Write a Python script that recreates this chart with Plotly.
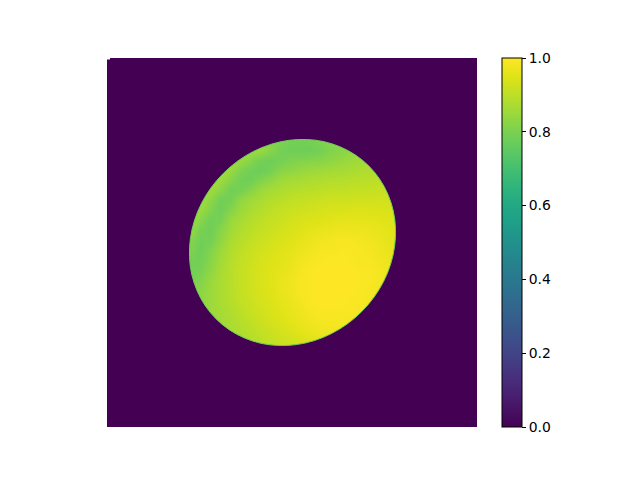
import plotly.graph_objects as go

# Estimated surface values on a coarse grid (image columns / rows)
grid_x = [73, 83, 93, 103, 113, 123, 133, 143, 153, 163, 173, 183, 193, 203, 213, 223, 233, 243, 253, 263, 273, 283, 293]
grid_y = [72, 82, 92, 102, 112, 122, 132, 142, 152, 162, 172, 182, 192, 202, 212, 222, 232, 242, 252, 262, 272, 282, 292]
surface = [
    [.86,.86,.86,.86,.86,.86,.86,.86,.86,.83,.81,.79,.79,.79,.81,.82,.83,.85,.86,.86,.86,.86,.86],
    [.86,.86,.86,.86,.86,.86,.86,.86,.86,.83,.81,.79,.79,.79,.81,.82,.83,.85,.86,.86,.86,.86,.86],
    [.87,.87,.87,.87,.87,.87,.86,.86,.85,.82,.79,.78,.78,.78,.79,.81,.82,.83,.85,.86,.86,.87,.87],
    [.87,.87,.87,.87,.87,.87,.85,.82,.79,.78,.79,.805,.81,.815,.82,.83,.84,.85,.86,.865,.87,.87,.87],
    [.87,.87,.87,.87,.87,.85,.81,.785,.775,.79,.82,.83,.84,.85,.855,.86,.865,.87,.875,.88,.885,.885,.885],
    [.87,.87,.87,.87,.855,.82,.785,.78,.81,.83,.855,.865,.87,.875,.88,.885,.885,.89,.895,.895,.90,.90,.90],
    [.87,.87,.87,.86,.825,.785,.79,.82,.85,.865,.875,.885,.89,.895,.90,.905,.905,.91,.91,.91,.915,.915,.915],
    [.875,.87,.865,.83,.785,.79,.835,.855,.87,.885,.895,.905,.91,.915,.92,.925,.925,.925,.93,.93,.93,.93,.93],
    [.87,.87,.85,.81,.78,.815,.85,.87,.885,.90,.91,.92,.925,.93,.935,.94,.94,.945,.945,.945,.945,.94,.94],
    [.87,.86,.82,.785,.795,.845,.865,.885,.90,.91,.92,.93,.94,.945,.95,.955,.96,.96,.96,.96,.955,.95,.95],
    [.86,.845,.795,.78,.82,.855,.88,.895,.91,.92,.93,.94,.95,.96,.965,.97,.975,.975,.975,.97,.965,.955,.95],
    [.84,.82,.785,.79,.83,.87,.89,.905,.92,.93,.94,.95,.96,.97,.98,.985,.99,.99,.985,.98,.97,.96,.95],
    [.82,.81,.78,.81,.85,.88,.90,.915,.93,.94,.95,.96,.97,.98,.99,.99,.995,.995,.99,.985,.975,.965,.96],
    [.81,.79,.785,.82,.86,.885,.905,.92,.935,.945,.955,.965,.98,.99,.995,1.0,1.0,.995,.99,.99,.98,.97,.96],
    [.79,.79,.795,.83,.865,.89,.91,.925,.94,.95,.96,.97,.985,.995,1.0,1.0,1.0,1.0,.995,.995,.985,.975,.97],
    [.80,.80,.81,.845,.87,.89,.91,.925,.94,.95,.965,.975,.99,.995,1.0,1.0,1.0,1.0,.995,.995,.985,.975,.97],
    [.82,.82,.825,.85,.87,.89,.91,.925,.94,.95,.965,.975,.99,.995,1.0,1.0,1.0,1.0,.995,.99,.98,.97,.97],
    [.83,.83,.83,.85,.87,.89,.905,.92,.935,.945,.96,.97,.985,.995,1.0,1.0,1.0,.995,.995,.985,.975,.97,.97],
    [.83,.83,.83,.85,.865,.88,.90,.915,.93,.94,.955,.965,.975,.99,.995,.995,.995,.995,.99,.98,.97,.97,.97],
    [.85,.85,.85,.85,.86,.875,.89,.905,.92,.935,.945,.96,.97,.98,.99,.99,.99,.985,.975,.97,.97,.97,.97],
    [.86,.86,.86,.86,.86,.87,.88,.895,.91,.92,.935,.945,.96,.97,.975,.98,.98,.97,.97,.97,.97,.97,.97],
    [.87,.87,.87,.87,.87,.87,.87,.885,.895,.91,.92,.93,.94,.95,.96,.965,.965,.965,.965,.965,.965,.965,.965],
    [.87,.87,.87,.87,.87,.87,.87,.88,.89,.905,.915,.925,.935,.945,.955,.96,.96,.96,.96,.96,.96,.96,.96],
]

# Disk outline, clockwise from the upper right
outline_x = [262.2, 273.1, 281.3, 286.7, 288.9, 288.0, 284.0, 277.0, 267.2, 254.9, 240.6, 224.5,
             207.3, 189.4, 171.4, 153.8, 137.2, 122.0, 108.8, 97.9, 89.7, 84.3, 82.1, 83.0,
             87.0, 94.0, 103.8, 116.1, 130.4, 146.5, 163.7, 181.6, 199.6, 217.2, 233.8, 249.0]
outline_y = [107.8, 121.0, 136.2, 152.8, 170.4, 188.4, 206.3, 223.5, 239.6, 253.9, 266.2, 276.0,
             283.0, 287.0, 287.9, 285.7, 280.3, 272.1, 261.2, 248.0, 232.8, 216.2, 198.6, 180.6,
             162.7, 145.5, 129.4, 115.1, 102.8, 93.0, 86.0, 82.0, 81.1, 83.3, 88.7, 96.9]

# Size of the image, and the missing cell at its top-left corner
image_w, image_h = 370, 369
notch_w, notch_h = 3, 1.5

tick_vals = [0.0, 0.2, 0.4, 0.6, 0.8, 1.0]
tick_text = ["0.0", "0.2", "0.4", "0.6", "0.8", "1.0"]

viridis = ["#440154", "#471365", "#482475", "#463480", "#414487", "#3b528b", "#355f8d",
           "#2f6c8e", "#2a788e", "#25848e", "#21918c", "#1f9e89", "#22a884", "#2fb47c",
           "#44bf70", "#5ec962", "#7ad151", "#9bd93c", "#bddf26", "#dfe318", "#fde725"]

BACKGROUND = "#440154"
RIM = "#6ece58"


def disk_path(xs, ys):
    n = len(xs)
    mid = lambda i: ((xs[i] + xs[(i + 1) % n]) / 2, (ys[i] + ys[(i + 1) % n]) / 2)
    s = "M %.2f %.2f " % mid(n - 1)
    for i in range(n):
        s += "Q %.2f %.2f %.2f %.2f " % (xs[i], ys[i], *mid(i))
    return s + "Z"


frame = (f"M {notch_w} 0 L {image_w} 0 L {image_w} {image_h} L 0 {image_h} "
         f"L 0 {notch_h} L {notch_w} {notch_h} Z ")
disk = disk_path(outline_x, outline_y)

fig = go.Figure()
fig.add_trace(go.Heatmap(
    x=grid_x, y=grid_y, z=surface, zmin=0, zmax=1, zsmooth="best",
    colorscale=[[i / 20, c] for i, c in enumerate(viridis)], hoverinfo="skip",
    colorbar=dict(
        x=(502 - 107) / 370, xanchor="left", xpad=0, y=0.5, yanchor="middle", ypad=0,
        len=1, lenmode="fraction", thickness=20, thicknessmode="pixels",
        outlinecolor="black", outlinewidth=1, ticks="outside", ticklen=4, tickwidth=1,
        tickcolor="black", tickvals=tick_vals, ticktext=tick_text,
        tickfont=dict(family="DejaVu Sans", size=13.9, color="black"),
    ),
))
fig.update_layout(
    width=640, height=480, margin=dict(l=99, r=171, t=50, b=61),
    paper_bgcolor="white", plot_bgcolor="white", showlegend=False,
    xaxis=dict(range=[0, image_w], visible=False),
    yaxis=dict(range=[image_h, 0], visible=False),
    shapes=[
        dict(type="path", path=frame + disk, fillcolor=BACKGROUND, fillrule="evenodd",
             line=dict(width=0), layer="above", xref="x", yref="y"),
        dict(type="path", path=disk, line=dict(color=RIM, width=1), layer="above",
             xref="x", yref="y"),
    ],
)
fig.write_html("out.html")
